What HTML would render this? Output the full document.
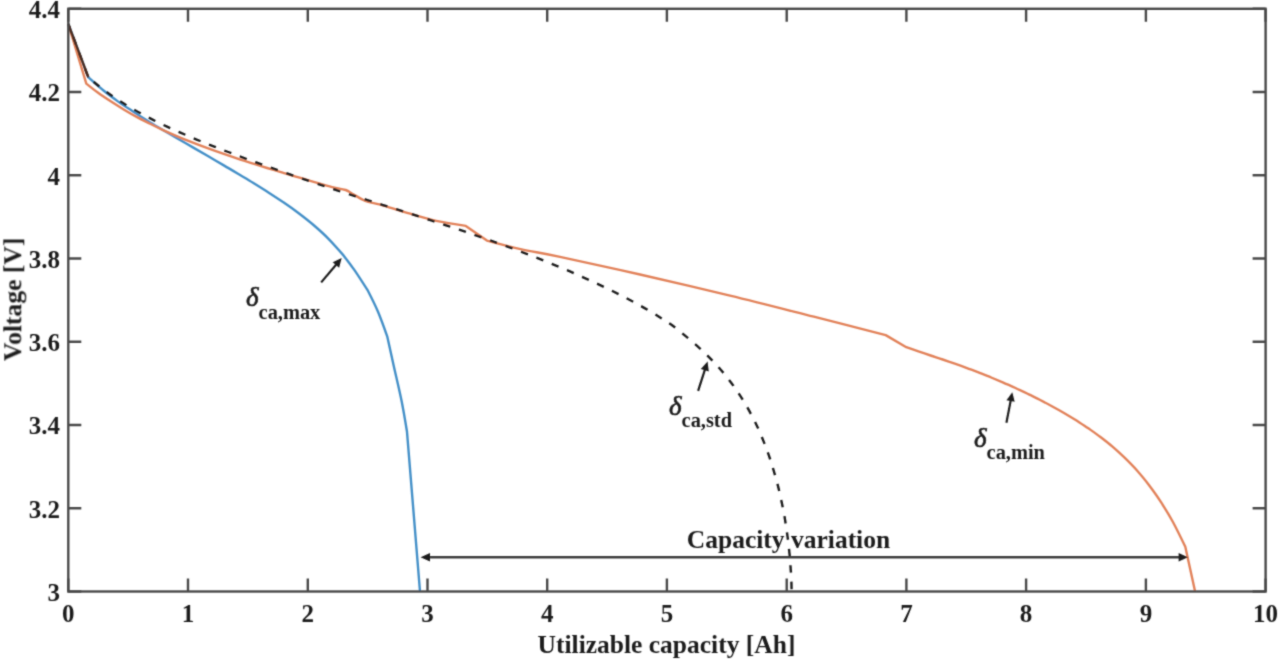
<!DOCTYPE html>
<html><head><meta charset="utf-8"><style>
html,body{margin:0;padding:0;background:#fff;width:1280px;height:662px;overflow:hidden}
svg{display:block}
text{font-family:"Liberation Serif",serif;fill:#1e1e1e}
</style></head><body>
<svg width="1280" height="662" viewBox="0 0 1280 662">
<defs><filter id="bl" filterUnits="userSpaceOnUse" x="0" y="0" width="1280" height="662"><feConvolveMatrix order="3" kernelMatrix="0.0277 0.1110 0.0277 0.1110 0.4452 0.1110 0.0277 0.1110 0.0277" preserveAlpha="false" edgeMode="duplicate"/></filter></defs>
<rect width="1280" height="662" fill="#fff"/>
<g filter="url(#bl)">
<g fill="none" stroke-linejoin="round" stroke-linecap="butt">
<path d="M68.3,24.0C68.3,24.0 88.2,77.2 88.2,77.2C88.2,77.2 98.2,86.2 103.2,90.3C108.2,94.4 113.2,98.0 118.2,101.6C123.2,105.2 128.3,108.4 133.3,111.7C138.3,115.0 143.3,118.1 148.3,121.2C153.3,124.3 158.3,127.2 163.3,130.2C168.3,133.1 173.3,136.0 178.3,138.9C183.3,141.8 188.3,144.7 193.3,147.6C198.3,150.5 203.3,153.4 208.3,156.3C213.3,159.2 218.4,162.2 223.4,165.1C228.4,168.0 233.4,171.0 238.4,174.0C243.4,177.0 248.4,179.9 253.4,183.0C258.4,186.1 263.4,189.2 268.4,192.4C273.4,195.6 278.4,198.9 283.4,202.3C288.4,205.7 293.4,209.2 298.4,213.0C303.4,216.8 308.5,220.7 313.5,225.0C318.5,229.3 323.5,233.7 328.5,238.8C333.5,243.9 343.5,255.4 343.5,255.4C343.5,255.4 350.2,264.0 354.3,269.9C358.4,275.8 367.9,290.7 367.9,290.7C367.9,290.7 374.7,303.9 377.9,311.5C381.1,319.1 387.2,336.3 387.2,336.3C387.2,336.3 391.2,354.4 393.6,365.3C396.0,376.2 399.5,390.5 401.7,401.6C403.9,412.7 407.0,431.8 407.0,431.8C407.0,431.8 420.0,591.5 420.0,591.5" stroke="#4490c8" stroke-width="2.4"/>
<path d="M68.3,24.0C68.3,24.0 86.3,83.6 86.3,83.6C86.3,83.6 94.0,89.8 98.1,92.8C102.2,95.8 106.8,98.8 111.1,101.6C115.4,104.4 119.8,107.1 124.1,109.7C128.4,112.3 132.8,114.8 137.1,117.1C141.4,119.4 145.8,121.6 150.1,123.8C154.4,126.0 158.8,128.1 163.1,130.1C167.4,132.1 171.8,134.0 176.1,135.8C180.4,137.7 184.8,139.5 189.1,141.2C193.4,142.9 197.8,144.6 202.1,146.2C206.4,147.8 210.8,149.4 215.1,150.9C219.4,152.4 223.8,153.9 228.1,155.4C232.4,156.9 236.8,158.4 241.1,159.8C245.4,161.2 249.8,162.5 254.1,163.9C258.4,165.3 262.8,166.7 267.1,168.0C271.4,169.3 275.8,170.6 280.1,171.9C284.4,173.2 288.8,174.5 293.1,175.8C297.4,177.1 301.8,178.3 306.1,179.6C310.4,180.9 314.8,182.2 319.1,183.4C323.4,184.7 327.7,186.0 332.1,187.1C336.5,188.2 342.2,188.8 345.7,190.0C349.2,191.2 349.9,192.4 353.2,194.2C356.5,196.0 360.8,199.2 365.3,201.0C369.8,202.8 373.3,202.7 380.4,204.7C387.5,206.7 398.8,210.5 408.1,213.2C417.4,215.9 426.7,218.8 436.3,220.9C445.9,223.0 465.8,225.9 465.8,225.9C465.8,225.9 486.9,240.6 486.9,240.6C486.9,240.6 508.4,246.4 520.6,249.1C532.8,251.8 540.1,252.6 560.0,256.8C579.9,261.0 611.7,268.0 640.0,274.5C668.3,281.0 701.0,288.6 730.0,295.6C759.0,302.6 787.8,310.1 813.8,316.7C839.7,323.3 885.7,335.1 885.7,335.1C885.7,335.1 906.3,347.2 906.3,347.2C906.3,347.2 914.3,350.0 918.4,351.4C922.5,352.8 926.5,354.1 930.6,355.5C934.7,356.9 938.7,358.1 942.7,359.5C946.7,360.9 950.8,362.3 954.8,363.7C958.8,365.1 963.0,366.6 967.0,368.1C971.0,369.6 975.1,371.0 979.1,372.6C983.1,374.2 987.2,375.8 991.2,377.5C995.2,379.2 999.2,380.9 1003.3,382.6C1007.3,384.4 1011.5,386.1 1015.5,388.0C1019.5,389.9 1023.6,391.7 1027.6,393.7C1031.6,395.7 1035.7,397.7 1039.7,399.8C1043.8,401.9 1047.9,404.0 1051.9,406.2C1056.0,408.4 1060.0,410.6 1064.0,413.0C1068.0,415.4 1072.0,417.8 1076.1,420.3C1080.1,422.9 1084.2,425.5 1088.3,428.3C1092.3,431.1 1096.4,433.9 1100.4,437.0C1104.4,440.1 1108.5,443.2 1112.5,446.7C1116.5,450.1 1120.5,453.8 1124.6,457.7C1128.6,461.6 1132.8,465.8 1136.8,470.3C1140.8,474.9 1144.9,479.7 1148.9,485.0C1152.9,490.3 1157.0,495.9 1161.0,502.2C1165.0,508.4 1169.2,515.1 1173.2,522.5C1177.2,529.9 1185.3,546.8 1185.3,546.8C1185.3,546.8 1195.1,591.5 1195.1,591.5" stroke="#e2825a" stroke-width="2.4"/>
<path d="M68.3,24.0C68.3,24.0 88.2,77.2 88.2,77.2C88.2,77.2 97.5,85.2 102.2,88.8C106.9,92.4 111.5,95.7 116.2,98.8C120.9,101.9 125.5,104.8 130.2,107.5C134.9,110.2 139.5,112.8 144.2,115.3C148.9,117.8 153.5,120.1 158.2,122.4C162.9,124.7 167.5,126.9 172.2,129.0C176.9,131.1 181.5,133.1 186.2,135.1C190.9,137.1 195.5,139.1 200.2,141.0C204.9,142.9 209.5,144.8 214.2,146.6C218.9,148.4 223.5,150.2 228.2,152.0C232.9,153.8 237.5,155.6 242.2,157.3C246.9,159.1 251.5,160.8 256.2,162.5C260.9,164.2 265.5,165.8 270.2,167.5C274.9,169.2 279.5,170.8 284.2,172.4C288.9,174.0 293.5,175.7 298.2,177.3C302.9,178.9 307.5,180.4 312.2,182.0C316.9,183.6 321.5,185.1 326.2,186.7C330.9,188.2 335.5,189.8 340.2,191.3C344.9,192.8 349.5,194.3 354.2,195.8C358.9,197.3 363.5,198.8 368.2,200.3C372.9,201.8 377.5,203.3 382.2,204.8C386.9,206.3 391.5,207.7 396.2,209.2C400.9,210.7 405.5,212.2 410.2,213.7C414.9,215.2 419.5,216.7 424.2,218.2C428.9,219.7 433.5,221.2 438.2,222.7C442.9,224.2 447.5,225.8 452.2,227.3C456.9,228.9 461.5,230.4 466.2,232.0C470.9,233.6 475.5,235.2 480.2,236.8C484.9,238.4 489.5,240.1 494.2,241.8C498.9,243.5 503.5,245.2 508.2,246.9C512.9,248.6 517.5,250.3 522.2,252.1C526.9,253.9 531.5,255.8 536.2,257.6C540.9,259.5 545.5,261.3 550.2,263.2C554.9,265.1 559.5,267.0 564.2,269.0C568.9,271.0 573.5,273.0 578.2,275.1C582.9,277.2 587.5,279.2 592.2,281.4C596.9,283.5 601.5,285.8 606.2,288.0C610.9,290.2 615.5,292.5 620.2,294.9C624.9,297.3 629.5,299.8 634.2,302.3C638.9,304.9 643.5,307.4 648.2,310.2C652.9,312.9 657.9,316.1 662.2,318.8C666.5,321.5 669.3,323.1 673.8,326.5C678.3,329.9 684.2,334.9 689.2,339.1C694.2,343.3 699.0,347.5 703.5,351.7C708.0,355.9 712.1,360.2 716.0,364.4C719.9,368.6 723.4,372.8 726.7,377.0C730.1,381.2 733.2,385.4 736.1,389.6C739.0,393.8 741.8,398.0 744.3,402.2C746.8,406.4 749.2,410.6 751.4,414.8C753.6,419.0 755.8,423.3 757.7,427.5C759.7,431.7 761.4,435.9 763.1,440.1C764.8,444.3 766.4,448.5 767.9,452.7C769.4,456.9 770.8,461.1 772.1,465.3C773.4,469.5 774.6,473.7 775.8,477.9C777.0,482.1 778.1,486.3 779.1,490.5C780.1,494.7 781.0,499.0 781.9,503.2C782.8,507.4 783.6,511.6 784.4,515.8C785.1,520.0 785.8,524.2 786.4,528.4C787.0,532.6 787.6,536.8 788.1,541.0C788.6,545.2 789.1,549.4 789.5,553.6C789.9,557.8 790.2,562.1 790.5,566.3C790.8,570.5 791.1,574.7 791.3,578.9C791.5,583.1 791.6,591.5 791.6,591.5" stroke="#1e1e1e" stroke-width="2.4" stroke-dasharray="7.4 9.1" stroke-dashoffset="2.2"/>
<polyline points="68.6,25 88.4,77.4" stroke="#4a2c1e" stroke-width="2.4"/>
</g>
<path d="M68.3,591.5V578.5M68.3,8.8V21.8M188.0,591.5V578.5M188.0,8.8V21.8M307.8,591.5V578.5M307.8,8.8V21.8M427.5,591.5V578.5M427.5,8.8V21.8M547.2,591.5V578.5M547.2,8.8V21.8M666.9,591.5V578.5M666.9,8.8V21.8M786.7,591.5V578.5M786.7,8.8V21.8M906.4,591.5V578.5M906.4,8.8V21.8M1026.1,591.5V578.5M1026.1,8.8V21.8M1145.9,591.5V578.5M1145.9,8.8V21.8M1265.6,591.5V578.5M1265.6,8.8V21.8M68.3,591.5H81.3M1265.6,591.5H1252.6M68.3,508.3H81.3M1265.6,508.3H1252.6M68.3,425.0H81.3M1265.6,425.0H1252.6M68.3,341.8H81.3M1265.6,341.8H1252.6M68.3,258.5H81.3M1265.6,258.5H1252.6M68.3,175.3H81.3M1265.6,175.3H1252.6M68.3,92.0H81.3M1265.6,92.0H1252.6M68.3,8.8H81.3M1265.6,8.8H1252.6" stroke="#4a4a4a" stroke-width="2.4" fill="none"/>
<rect x="68.3" y="8.8" width="1197.3" height="582.7" fill="none" stroke="#4a4a4a" stroke-width="2.4"/>
<g font-weight="bold" font-size="25">
<text x="68.3" y="622.3" text-anchor="middle">0</text><text x="188.0" y="622.3" text-anchor="middle">1</text><text x="307.8" y="622.3" text-anchor="middle">2</text><text x="427.5" y="622.3" text-anchor="middle">3</text><text x="547.2" y="622.3" text-anchor="middle">4</text><text x="666.9" y="622.3" text-anchor="middle">5</text><text x="786.7" y="622.3" text-anchor="middle">6</text><text x="906.4" y="622.3" text-anchor="middle">7</text><text x="1026.1" y="622.3" text-anchor="middle">8</text><text x="1145.9" y="622.3" text-anchor="middle">9</text><text x="1265.6" y="622.3" text-anchor="middle">10</text>
<text x="60" y="600.7" text-anchor="end">3</text><text x="60" y="517.5" text-anchor="end">3.2</text><text x="60" y="434.2" text-anchor="end">3.4</text><text x="60" y="351.0" text-anchor="end">3.6</text><text x="60" y="267.7" text-anchor="end">3.8</text><text x="60" y="184.5" text-anchor="end">4</text><text x="60" y="101.2" text-anchor="end">4.2</text><text x="60" y="18.0" text-anchor="end">4.4</text>
<text x="666.5" y="652.8" text-anchor="middle" font-size="25.5">Utilizable capacity [Ah]</text>
<text transform="translate(21.3,299.4) rotate(-90)" text-anchor="middle" font-size="25.6">Voltage [V]</text>
<text x="788.5" y="547.5" text-anchor="middle" font-size="25.5">Capacity variation</text>
</g>
<line x1="321.2" y1="282.4" x2="336.5" y2="264.2" stroke="#1e1e1e" stroke-width="2.2"/><polygon points="341.7,258.1 339.1,267.7 332.7,262.3" fill="#1e1e1e"/><line x1="698.1" y1="390.8" x2="705.1" y2="369.2" stroke="#1e1e1e" stroke-width="2.2"/><polygon points="707.6,361.6 708.8,371.5 700.8,368.9" fill="#1e1e1e"/><line x1="1006.4" y1="422.8" x2="1010.8" y2="400.1" stroke="#1e1e1e" stroke-width="2.2"/><polygon points="1012.3,392.2 1014.7,401.8 1006.5,400.2" fill="#1e1e1e"/>
<line x1="800.0" y1="557.3" x2="429.0" y2="557.3" stroke="#3c3c3c" stroke-width="2.5"/><polygon points="420.6,557.3 430.0,553.0 430.0,561.6" fill="#1e1e1e"/><line x1="800.0" y1="557.3" x2="1179.6" y2="557.3" stroke="#3c3c3c" stroke-width="2.5"/><polygon points="1188.0,557.3 1178.6,561.6 1178.6,553.0" fill="#1e1e1e"/>
<text x="246" y="306.3" font-style="italic" font-weight="normal" font-size="27" stroke="#1e1e1e" stroke-width="0.7">&#948;</text><text x="258.6" y="318.8" font-weight="bold" font-size="20.4">ca,max</text>
<text x="669" y="414.8" font-style="italic" font-weight="normal" font-size="27" stroke="#1e1e1e" stroke-width="0.7">&#948;</text><text x="681.6" y="427.3" font-weight="bold" font-size="20.4">ca,std</text>
<text x="974" y="446.8" font-style="italic" font-weight="normal" font-size="27" stroke="#1e1e1e" stroke-width="0.7">&#948;</text><text x="986.6" y="459.3" font-weight="bold" font-size="20.4">ca,min</text>
</g>
</svg>
</body></html>
